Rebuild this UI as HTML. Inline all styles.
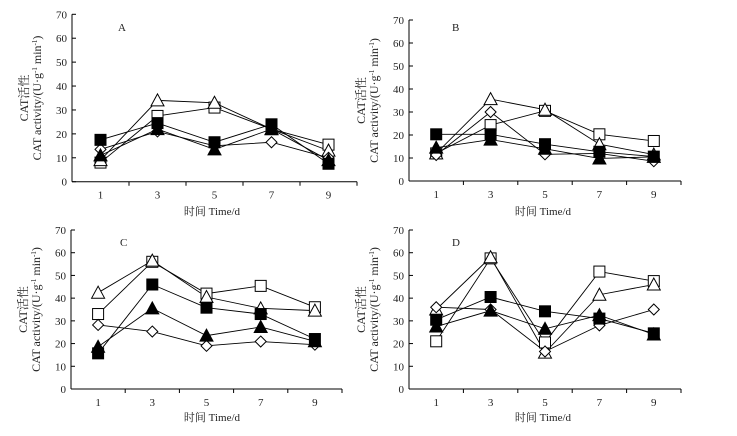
<!DOCTYPE html>
<html><head><meta charset="utf-8"><style>
body{margin:0;background:#fff;width:737px;height:431px;overflow:hidden}
svg text{font-family:"Liberation Serif","Noto Serif CJK SC",serif;fill:#222}
</style></head><body>
<svg id="c" width="737" height="431"></svg>
<script>
const days=[1,3,5,7,9];
const yTicks=[0,10,20,30,40,50,60,70];
const seriesNames=['open-square','open-triangle','open-diamond','filled-square','filled-triangle'];
const panelA=[[8,27.5,31,22,15.5],[9,34,33,22,13],[13.5,21,15,16.5,10],[17.5,24.5,16.5,24,7.5],[11,22,13.5,22,9]];
const panelB=[[12,24.3,30.5,20.3,17.4],[12,35.6,31,16,11.5],[11.3,30,11.6,12,8.6],[20.3,20.3,16,12.7,10.6],[14.5,18,14,9.8,10.5]];
const panelC=[[33,56,42,45.4,36],[42.4,56.5,40.5,35.5,34.5],[28.2,25.3,19,20.9,19.5],[15.7,46,35.8,33,22],[18.6,35.5,23.5,27.3,21]];
const panelD=[[21,57.5,20.5,51.7,47.5],[35,58,16,41.5,46],[36,35,16.5,28,35],[30.5,40.5,34.2,31,24.5],[27.5,34.5,26.5,32.5,24]];
const panels=[
 {id:'A',data:panelA,x0:72,x1:357,y0:181.7,y70:14.3,lab:[118,31],xt:[212,215]},
 {id:'B',data:panelB,x0:409,x1:681,y0:181,y70:20,lab:[452,31],xt:[543,215]},
 {id:'C',data:panelC,x0:71,x1:342,y0:389,y70:230,lab:[120,246],xt:[212,421]},
 {id:'D',data:panelD,x0:409,x1:681,y0:389,y70:230,lab:[452,246],xt:[543,421]}];
const svg=document.getElementById('c');const NS='http://www.w3.org/2000/svg';
function mk(t,a,p){const e=document.createElementNS(NS,t);for(const k in a)e.setAttribute(k,a[k]);(p||svg).appendChild(e);return e;}
panels.forEach(P=>{
 const g=mk('g',{});
 
 
 const X=d=>P.x0+(P.x1-P.x0)*d/10, Y=v=>P.y0-(P.y0-P.y70)*v/70;
 mk('line',{x1:P.x0,y1:P.y70,x2:P.x0,y2:P.y0,stroke:'#000','stroke-width':1},g);
 mk('line',{x1:P.x0,y1:P.y0,x2:P.x1,y2:P.y0,stroke:'#000','stroke-width':1},g);
 yTicks.forEach(v=>{mk('line',{x1:P.x0,y1:Y(v),x2:P.x0+4,y2:Y(v),stroke:'#000'},g);
  const t=mk('text',{x:P.x0-5,y:Y(v)+4,'text-anchor':'end','font-size':11},g);t.textContent=v;
  });
 [2,4,6,8,10].forEach(d=>mk('line',{x1:X(d),y1:P.y0,x2:X(d),y2:P.y0+4,stroke:'#000'},g));
 days.forEach(d=>{const t=mk('text',{x:X(d),y:P.y0+17,'text-anchor':'middle','font-size':11},g);t.textContent=d;
  });
 const l=mk('text',{x:P.lab[0],y:P.lab[1],'font-size':11},g);l.textContent=P.id;
 
 const xt=mk('text',{x:P.xt[0],y:P.xt[1],'text-anchor':'middle','font-size':11},g);xt.textContent='时间 Time/d';
 
 const cy=(P.y0+P.y70)/2, lx=P.x0-31;
 const yt=mk('text',{x:lx,y:cy,'text-anchor':'middle','font-size':12,transform:`rotate(-90 ${lx} ${cy})`},g);
 yt.innerHTML='CAT activity/(U·g<tspan font-size="7" dy="-4">-1</tspan><tspan dy="4"> min</tspan><tspan font-size="7" dy="-4">-1</tspan><tspan dy="4">)</tspan>';
 
 const lx2=lx-13;
 const y2=mk('text',{x:lx2,y:cy,'text-anchor':'middle','font-size':12,transform:`rotate(-90 ${lx2} ${cy})`},g);y2.textContent='CAT活性';
 
 P.data.forEach((s,i)=>{
  const pts=s.map((v,j)=>[X(days[j]),Y(v)]);
  const pl=mk('polyline',{points:pts.map(p=>p.join(',')).join(' '),fill:'none',stroke:'#000','stroke-width':0.9},g);
  
 });
 P.data.forEach((s,i)=>{
  s.forEach((v,j)=>{const x=X(days[j]),y=Y(v);let m;const r=5.5;
   const fill=i>=3?'#000':'#fff';
   if(i===0||i===3)m=mk('rect',{x:x-r,y:y-r,width:2*r,height:2*r,fill,stroke:'#000'},g);
   else if(i===1||i===4)m=mk('polygon',{points:`${x},${y-r-1} ${x-r-1},${y+r} ${x+r+1},${y+r}`,fill,stroke:'#000'},g);
   else m=mk('polygon',{points:`${x},${y-r} ${x+r},${y} ${x},${y+r} ${x-r},${y}`,fill,stroke:'#000'},g);
   
   
  });
 });
});
</script></body></html>
